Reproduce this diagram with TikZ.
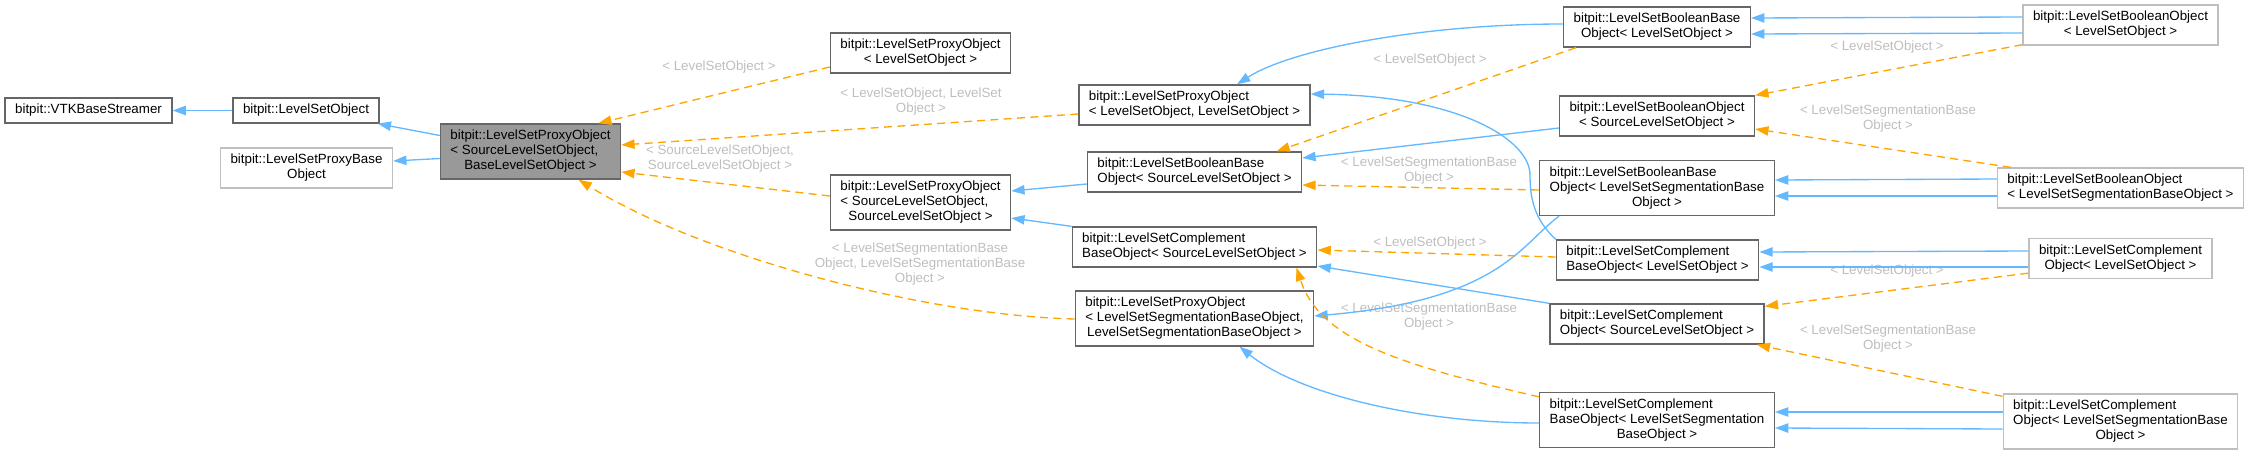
\documentclass[tikz,border=0pt]{standalone}
\usepackage{fontspec}
\setmainfont{Liberation Sans}
\usepackage{xcolor}
\usepackage{tikz}
\usetikzlibrary{arrows.meta,calc}

\definecolor{edgeblue}{HTML}{63B8FF}
\definecolor{edgeorange}{HTML}{FFA500}
\definecolor{lblgray}{HTML}{BEBEBE}
\definecolor{boxgray}{HTML}{666666}
\definecolor{boxlight}{HTML}{BFBFBF}
\definecolor{mainfill}{HTML}{999999}

\newcommand{\clsone}[1]{\begin{tabular}{@{}c@{}}#1\end{tabular}}
\newcommand{\clstwo}[2]{\begin{tabular}{@{}l@{}}#1\\\multicolumn{1}{@{}c@{}}{#2}\end{tabular}}
\newcommand{\clsthree}[3]{\begin{tabular}{@{}l@{}}#1\\#2\\\multicolumn{1}{@{}c@{}}{#3}\end{tabular}}

\begin{document}
\begin{tikzpicture}[x=0.75pt,y=-0.75pt,
  font=\fontsize{10}{11.25}\selectfont,
  cls/.style={draw=boxgray,line width=1pt,inner xsep=7.5pt,inner ysep=3.75pt,fill=white},
  clsext/.style={cls,draw=boxlight},
  clsmain/.style={cls,fill=mainfill},
  pub/.style={draw=edgeblue,line width=1pt,-{Triangle[length=10pt,width=7pt]}},
  tmpl/.style={draw=edgeorange,line width=1pt,dash pattern=on 6pt off 4pt,-{Triangle[length=10pt,width=7pt]}},
  lbl/.style={text=lblgray,align=center,inner sep=0pt}]
\useasboundingbox (0,0) rectangle (2248,454);

\node[cls] (vtk) at (88.5,110.5) {\clsone{bitpit::VTKBaseStreamer}};
\node[cls] (lso) at (306,110.5) {\clsone{bitpit::LevelSetObject}};
\node[clsext] (pbase) at (306.5,168) {\clstwo{bitpit::LevelSetProxyBase}{Object}};
\node[clsmain] (main) at (530.5,151.5) {\clsthree{bitpit::LevelSetProxyObject}{< SourceLevelSetObject,}{BaseLevelSetObject >}};
\node[cls] (plso) at (920.5,53) {\clstwo{bitpit::LevelSetProxyObject}{< LevelSetObject >}};
\node[cls] (plsolso) at (1194.5,105) {\clstwo{bitpit::LevelSetProxyObject}{< LevelSetObject, LevelSetObject >}};
\node[cls] (psrc) at (920.5,202.5) {\clsthree{bitpit::LevelSetProxyObject}{< SourceLevelSetObject,}{SourceLevelSetObject >}};
\node[cls] (pseg) at (1194.5,318.5) {\clsthree{bitpit::LevelSetProxyObject}{< LevelSetSegmentationBaseObject,}{LevelSetSegmentationBaseObject >}};
\node[cls] (bbsrc) at (1194.5,172) {\clstwo{bitpit::LevelSetBooleanBase}{Object< SourceLevelSetObject >}};
\node[cls] (cbsrc) at (1194.5,247) {\clstwo{bitpit::LevelSetComplement}{BaseObject< SourceLevelSetObject >}};
\node[cls] (bblso) at (1657,27) {\clstwo{bitpit::LevelSetBooleanBase}{Object< LevelSetObject >}};
\node[cls] (bosrc) at (1657,116) {\clstwo{bitpit::LevelSetBooleanObject}{< SourceLevelSetObject >}};
\node[cls] (bbseg) at (1657,188) {\clsthree{bitpit::LevelSetBooleanBase}{Object< LevelSetSegmentationBase}{Object >}};
\node[cls] (cblso) at (1657.5,260) {\clstwo{bitpit::LevelSetComplement}{BaseObject< LevelSetObject >}};
\node[cls] (cosrc) at (1657,324) {\clstwo{bitpit::LevelSetComplement}{Object< SourceLevelSetObject >}};
\node[cls] (cbseg) at (1657,420) {\clsthree{bitpit::LevelSetComplement}{BaseObject< LevelSetSegmentation}{BaseObject >}};
\node[clsext] (bolso) at (2120.5,25) {\clstwo{bitpit::LevelSetBooleanObject}{< LevelSetObject >}};
\node[clsext] (boseg) at (2120.5,188) {\clstwo{bitpit::LevelSetBooleanObject}{< LevelSetSegmentationBaseObject >}};
\node[clsext] (colso) at (2120.5,258.5) {\clstwo{bitpit::LevelSetComplement}{Object< LevelSetObject >}};
\node[clsext] (coseg) at (2120.5,421.5) {\clsthree{bitpit::LevelSetComplement}{Object< LevelSetSegmentationBase}{Object >}};

\node[lbl] (l1) at (719,67) {< LevelSetObject >};
\node[lbl] (l2) at (921,102) {< LevelSetObject, LevelSet\\Object >};
\node[lbl] (l3) at (720,159) {< SourceLevelSetObject,\\SourceLevelSetObject >};
\node[lbl] (l4) at (920,264) {< LevelSetSegmentationBase\\Object, LevelSetSegmentationBase\\Object >};
\node[lbl] (l5) at (1430,60) {< LevelSetObject >};
\node[lbl] (l6) at (1429,171) {< LevelSetSegmentationBase\\Object >};
\node[lbl] (l7) at (1430,243) {< LevelSetObject >};
\node[lbl] (l8) at (1429,317) {< LevelSetSegmentationBase\\Object >};
\node[lbl] (l9) at (1887,47) {< LevelSetObject >};
\node[lbl] (l10) at (1888,119) {< LevelSetSegmentationBase\\Object >};
\node[lbl] (l11) at (1887,271) {< LevelSetObject >};
\node[lbl] (l12) at (1888,339) {< LevelSetSegmentationBase\\Object >};

\draw[pub] (lso) -- (vtk);
\draw[pub] ($(main.west)+(0,-16)$) -- ($(lso.south east)+(-2,0)$);
\draw[pub] ($(main.west)+(0,7)$) -- ($(pbase.east)+(0,-7)$);
\draw[tmpl] ($(plso.west)+(0,14)$) -- ($(main.north east)+(-23,0)$);
\draw[tmpl] ($(plsolso.west)+(0,9)$) -- ($(main.east)+(0,-6.5)$);
\draw[tmpl] ($(psrc.west)+(0,-6.5)$) -- ($(main.east)+(0,20.5)$);
\draw[tmpl] ($(pseg.west)+(0,0.5)$) .. controls (920,315) and (700,255) .. ($(main.south)+(48,0)$);
\draw[pub] ($(bbsrc.west)+(0,12)$) -- ($(psrc.east)+(0,-11.5)$);
\draw[pub] (cbsrc.north west) -- ($(psrc.east)+(0,15.5)$);
\draw[pub] ($(bblso.west)+(0,-3)$) .. controls (1420,24) and (1290,50) .. ($(plsolso.north)+(42.5,0)$);
\draw[pub] (cblso.north west) .. controls (1535,220) and (1530,200) .. (1530,175) .. controls (1530,140) and (1460,96) .. ($(plsolso.east)+(0,-11)$);
\draw[pub] ($(bbseg.south west)+(20,0)$) .. controls (1520,245) and (1500,300) .. ($(pseg.east)+(0,-2.5)$);
\draw[pub] ($(bosrc.west)+(0,12)$) -- ($(bbsrc.east)+(0,-14)$);
\draw[tmpl] ($(bblso.south west)+(13,0)$) -- ($(bbsrc.north)+(82,0)$);
\draw[tmpl] ($(bbseg.west)+(0,2)$) -- ($(bbsrc.east)+(0,13)$);
\draw[tmpl] ($(cblso.west)+(0,-3)$) -- ($(cbsrc.east)+(0,3)$);
\draw[pub] (cosrc.north west) -- ($(cbsrc.east)+(0,19)$);
\draw[tmpl] ($(cbseg.north west)+(0,5)$) .. controls (1400,365) and (1320,340) .. ($(cbsrc.south east)+(-21,0)$);
\draw[pub] ($(cbseg.west)+(0,3)$) .. controls (1420,423) and (1300,395) .. ($(pseg.south)+(45,0)$);
\draw[pub] ($(bolso.west)+(0,-8)$) -- ($(bblso.east)+(0,-9)$);
\draw[pub] ($(bolso.west)+(0,8)$) -- ($(bblso.east)+(0,7)$);
\draw[tmpl] ($(bolso.south west)+(0,-1)$) -- (bosrc.north east);
\draw[pub] ($(boseg.west)+(0,-9)$) -- ($(bbseg.east)+(0,-8)$);
\draw[pub] ($(boseg.west)+(0,8)$) -- ($(bbseg.east)+(0,8)$);
\draw[tmpl] ($(boseg.north west)+(14,0)$) -- ($(bosrc.east)+(0,13)$);
\draw[pub] ($(colso.west)+(0,-7.5)$) -- ($(cblso.east)+(0,-8)$);
\draw[pub] ($(colso.west)+(0,8.5)$) -- ($(cblso.east)+(0,7)$);
\draw[tmpl] ($(colso.south west)+(0,-6)$) -- ($(cosrc.north east)+(0,3)$);
\draw[pub] ($(coseg.west)+(0,-9.5)$) -- ($(cbseg.east)+(0,-8)$);
\draw[pub] ($(coseg.west)+(0,7.5)$) -- ($(cbseg.east)+(0,8)$);
\draw[tmpl] ($(coseg.north west)+(0,3)$) -- ($(cosrc.south east)+(-8,0)$);
\end{tikzpicture}
\end{document}
